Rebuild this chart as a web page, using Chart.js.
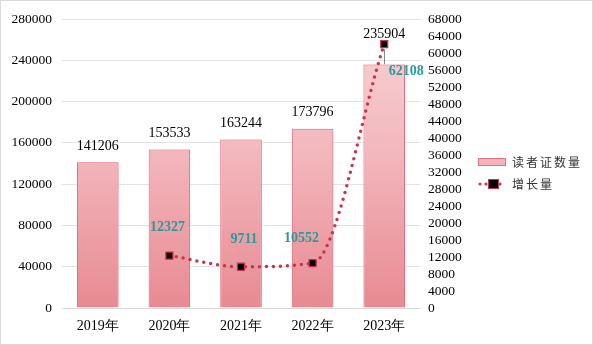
<!DOCTYPE html>
<html>
<head>
<meta charset="utf-8">
<script src="https://cdn.jsdelivr.net/npm/chart.js@4/dist/chart.umd.min.js"></script>
<style>
html,body{margin:0;padding:0;background:#fff;}
#wrap{position:relative;width:591px;height:343px;border:1px solid #d9d9d9;}
canvas{display:block;}
</style>
</head>
<body>
<div id="wrap"><canvas id="c" width="591" height="343"></canvas></div>
<script>
const categories = ['2019年','2020年','2021年','2022年','2023年'];
const readerCards = [141206, 153533, 163244, 173796, 235904];
const growth = [null, 12327, 9711, 10552, 62108];
const leftTicks = [0,40000,80000,120000,160000,200000,240000,280000];
const rightTicks = [0,4000,8000,12000,16000,20000,24000,28000,32000,36000,40000,44000,48000,52000,56000,60000,64000,68000];
const seriesNames = ['读者证数量','增长量'];

const SERIF = '"Liberation Serif","Times New Roman",serif';
const CJK = '"Noto Sans CJK SC",sans-serif';
const LINE_COLOR = '#c9364c';
const TEAL = '#2b9a9c';

const ctx = document.getElementById('c').getContext('2d');

function barGradient(context){
  const chart = context.chart;
  const area = chart.chartArea;
  if(!area) return '#f0a8ae';
  const g = chart.ctx.createLinearGradient(0, area.top, 0, area.bottom);
  g.addColorStop(0, '#f8d4d7');
  g.addColorStop(0.45, '#f2b8bd');
  g.addColorStop(1, '#e88a92');
  return g;
}

const shadowPlugin = {
  id:'barShadow',
  beforeDatasetDraw(chart, args){
    if(args.index===0){
      const c = chart.ctx;
      c.save();
      c.shadowColor='rgba(200,80,90,0.22)';
      c.shadowBlur=8;
      c.shadowOffsetX=4;
      c.shadowOffsetY=0;
    }
  },
  afterDatasetDraw(chart, args){
    if(args.index===0){ chart.ctx.restore(); }
  }
};

const labelPlugin = {
  id:'labels',
  afterDatasetsDraw(chart){
    const c = chart.ctx;
    const barMeta = chart.getDatasetMeta(0);
    const lineMeta = chart.getDatasetMeta(1);
    c.save();
    c.font = '14px '+SERIF;
    c.fillStyle = '#000';
    c.textAlign='center';
    c.textBaseline='middle';
    barMeta.data.forEach((el,i)=>{
      let y = el.y - 16;
      if(i===4){ y = lineMeta.data[4].y - 10; }
      c.fillText(String(readerCards[i]), el.x, y);
    });
    const p4 = lineMeta.data[4];
    c.strokeStyle='#888';
    c.lineWidth=1;
    c.beginPath();
    c.moveTo(Math.round(p4.x)+0.5, p4.y+5);
    c.lineTo(Math.round(p4.x)+0.5, p4.y+20);
    c.stroke();
    c.font = 'bold 14px '+SERIF;
    c.fillStyle = TEAL;
    const offs = [null,[-2,-28],[3,-27],[-11,-25],[22,27]];
    lineMeta.data.forEach((el,i)=>{
      if(growth[i]==null) return;
      c.fillText(String(growth[i]), el.x+offs[i][0], el.y+offs[i][1]);
    });
    const lx = 477, ly1 = 161, ly2 = 183;
    c.fillStyle = '#f2b5ba';
    c.fillRect(lx, ly1-4, 28, 8);
    c.strokeStyle = '#e8707c';
    c.lineWidth = 1;
    c.strokeRect(lx+0.5, ly1-3.5, 27, 7);
    c.fillStyle = LINE_COLOR;
    [lx+2, lx+8, lx+22].forEach(x=>{ c.beginPath(); c.arc(x, ly2, 1.6, 0, Math.PI*2); c.fill(); });
    c.fillStyle='#000';
    c.fillRect(lx+11, ly2-4, 9, 8);
    c.strokeStyle=LINE_COLOR;
    c.strokeRect(lx+10.5, ly2-4.5, 10, 9);
    c.font = '12px '+CJK;
    c.fillStyle='#333';
    c.textAlign='left';
    const drawSpaced=(txt,x,y)=>{ for(const ch of txt){ c.fillText(ch,x,y); x+=14; } };
    drawSpaced(seriesNames[0], 511, ly1);
    drawSpaced(seriesNames[1], 511, ly2);
    c.restore();
  }
};

new Chart(ctx, {
  data:{
    labels:categories,
    datasets:[
      {
        type:'bar',
        label:seriesNames[0],
        data:readerCards,
        yAxisID:'y',
        backgroundColor:barGradient,
        borderColor:'#e56575',
        borderWidth:1,
        barPercentage:0.58,
        categoryPercentage:1,
        order:2
      },
      {
        type:'line',
        label:seriesNames[1],
        data:growth,
        yAxisID:'y1',
        borderColor:LINE_COLOR,
        borderWidth:3.5,
        borderDash:[0,7],
        borderCapStyle:'round',
        cubicInterpolationMode:'monotone',
        pointStyle:'rect',
        pointRadius:5,
        pointBackgroundColor:'#000',
        pointBorderColor:LINE_COLOR,
        pointBorderWidth:1.2,
        fill:false,
        order:1
      }
    ]
  },
  options:{
    responsive:false,
    animation:false,
    layout:{padding:{top:15,left:0,right:0,bottom:0}},
    plugins:{legend:{display:false},tooltip:{enabled:false}},
    scales:{
      x:{
        grid:{display:false,drawTicks:false},
        border:{display:true,color:'#d9d9d9',width:1},
        ticks:{color:'#000',font:{family:SERIF,size:14},padding:10},
        afterFit(s){ s.height = 36; }
      },
      y:{
        position:'left',
        min:0,max:280000,
        afterBuildTicks(s){ s.ticks = leftTicks.map(v=>({value:v})); },
        grid:{color:'#e3e3e3',drawTicks:false},
        border:{display:false},
        ticks:{color:'#000',font:{family:SERIF,size:13.5},padding:10,callback:v=>String(v)},
        afterFit(s){ s.width = 61; }
      },
      y1:{
        position:'right',
        min:0,max:68000,
        afterBuildTicks(s){ s.ticks = rightTicks.map(v=>({value:v})); },
        grid:{display:false,drawTicks:false},
        border:{display:false},
        ticks:{color:'#000',font:{family:SERIF,size:13.5},padding:8,autoSkip:false,callback:v=>String(v)},
        afterFit(s){ s.width = 172; }
      }
    }
  },
  plugins:[shadowPlugin,labelPlugin]
});
</script>
</body>
</html>
